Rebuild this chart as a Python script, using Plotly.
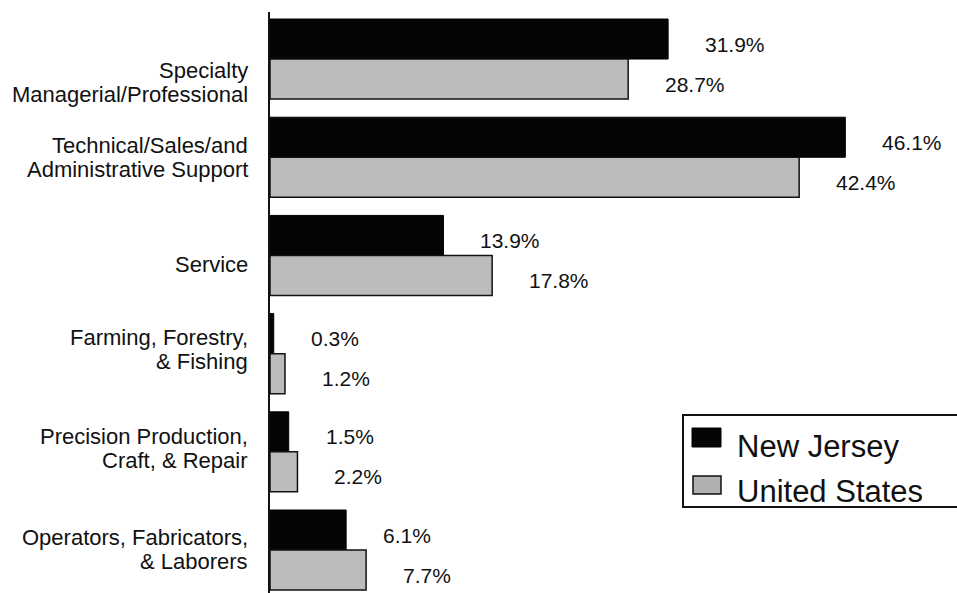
import plotly.graph_objects as go

# Occupation categories and employment shares (%)
categories = [
    "Specialty<br>Managerial/Professional",
    "Technical/Sales/and<br>Administrative Support",
    "Service",
    "Farming, Forestry,<br>& Fishing",
    "Precision Production,<br>Craft, & Repair",
    "Operators, Fabricators,<br>& Laborers",
]
new_jersey = [31.9, 46.1, 13.9, 0.3, 1.5, 6.1]
united_states = [28.7, 42.4, 17.8, 1.2, 2.2, 7.7]
series_names = ["New Jersey", "United States"]

# downward offset (px) of each category label block from its bar group centre
label_offset = [23, 0, 9, -4.5, -3, -1]
LINE_PITCH = 24

FONT = "Liberation Sans, Arial, Helvetica, sans-serif"
W, H = 957, 593
L, T = 270, 12
PW, PH = W - L, H - T

positions = list(range(len(categories)))
BARGAP = 0.185
half = (1 - BARGAP) / 4  # offset of each bar centre from the category centre

fig = go.Figure()
fig.add_trace(go.Bar(
    y=positions, x=new_jersey, orientation="h", name=series_names[0],
    marker=dict(color="#050505", line=dict(color="#000000", width=1)),
    showlegend=False,
))
fig.add_trace(go.Bar(
    y=positions, x=united_states, orientation="h", name=series_names[1],
    marker=dict(
        color="#b4b4b4",
        line=dict(color="#111111", width=1.5),
        pattern=dict(shape=".", bgcolor="#c8c8c8", fgcolor="#5a5a5a",
                     size=2, solidity=0.3),
    ),
    showlegend=False,
))

annotations = []
# value labels to the right of each bar
for i, (nj, us) in enumerate(zip(new_jersey, united_states)):
    for val, off in ((nj, -half), (us, half)):
        annotations.append(dict(
            x=val, y=i + off, xref="x", yref="y",
            text=f"{val:.1f}%", showarrow=False,
            xanchor="left", yanchor="middle", xshift=35, yshift=-5,
            font=dict(family=FONT, size=21, color="#111111"),
        ))
# category labels, right-aligned against the axis, one annotation per line
for i, (cat, dy) in enumerate(zip(categories, label_offset)):
    lines = cat.split("<br>")
    n = len(lines)
    for k, line in enumerate(lines):
        down = dy + (k - (n - 1) / 2) * LINE_PITCH
        annotations.append(dict(
            x=0, y=i, xref="paper", yref="y", text=line, showarrow=False,
            xanchor="right", yanchor="middle", align="right",
            xshift=-20, yshift=-down,
            font=dict(family=FONT, size=22, color="#111111"),
        ))


def px_x(p):
    return (p - L) / PW


def px_y(p):
    return (H - p) / PH


# legend box drawn by hand
shapes = [
    dict(type="rect", xref="paper", yref="paper",
         x0=px_x(683), x1=px_x(963), y0=px_y(507), y1=px_y(415),
         line=dict(color="#111111", width=2), fillcolor="rgba(0,0,0,0)"),
    dict(type="rect", xref="paper", yref="paper",
         x0=px_x(692), x1=px_x(721), y0=px_y(447), y1=px_y(428),
         line=dict(color="#000000", width=1), fillcolor="#050505"),
    dict(type="rect", xref="paper", yref="paper",
         x0=px_x(693), x1=px_x(721), y0=px_y(494), y1=px_y(476),
         line=dict(color="#111111", width=1.5), fillcolor="#b0b0b0"),
]
for name, yc in zip(series_names, (446, 491)):
    annotations.append(dict(
        x=px_x(735), y=px_y(yc), xref="paper", yref="paper", text=name,
        showarrow=False, xanchor="left", yanchor="middle",
        font=dict(family=FONT, size=31, color="#111111"),
    ))

units_top = -0.479
units_span = PH / 98.2
fig.update_layout(
    width=W, height=H,
    margin=dict(l=L, r=0, t=T, b=0, pad=0),
    paper_bgcolor="white", plot_bgcolor="white",
    barmode="group", bargap=BARGAP, bargroupgap=0,
    xaxis=dict(range=[0, PW / 12.48], visible=False, fixedrange=True),
    yaxis=dict(range=[units_top + units_span, units_top], showticklabels=False,
               showgrid=False, zeroline=False, showline=True,
               linecolor="#111111", linewidth=2, ticks=""),
    annotations=annotations, shapes=shapes,
    showlegend=False,
)

fig.write_html("out.html")
